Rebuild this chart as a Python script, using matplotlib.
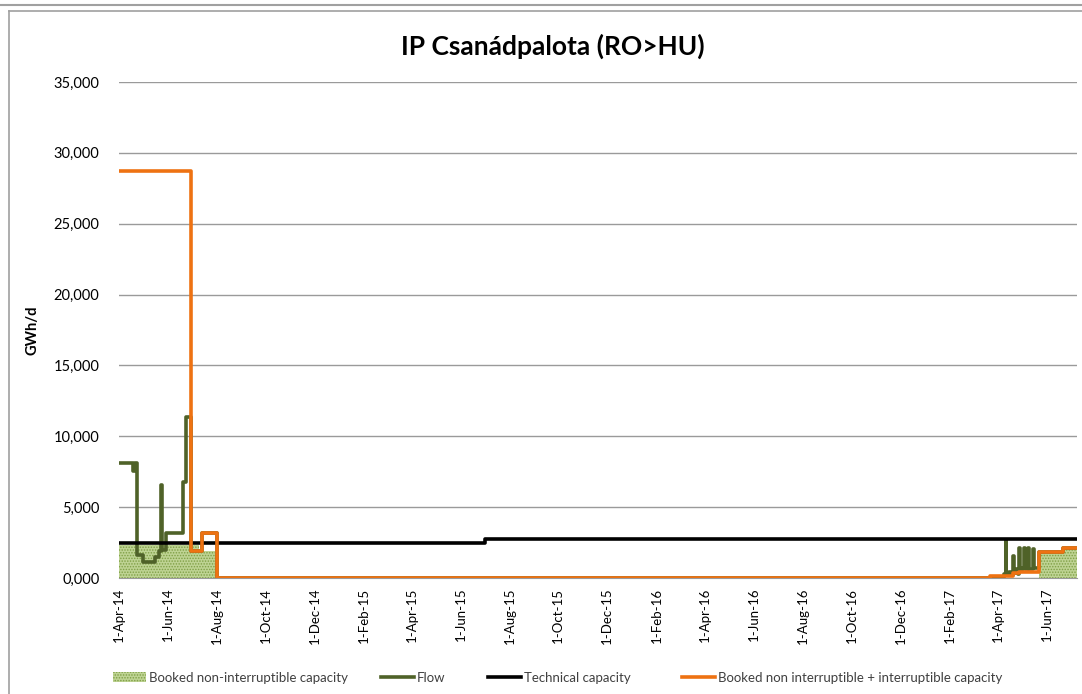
import matplotlib.pyplot as plt
import matplotlib.dates as mdates
import numpy as np
from matplotlib.lines import Line2D
from matplotlib.patches import Patch

plt.rcParams['font.family'] = ['Lato', 'DejaVu Sans']
plt.rcParams['hatch.linewidth'] = 0.7

end_date = "2017-07-09"

# Booked non-interruptible capacity (value holds until next date)
booked_dates = ["2014-04-01", "2014-07-10", "2014-08-01", "2017-05-23", "2017-06-21"]
booked_vals = [2330, 1880, 0, 1780, 2060]

# Technical capacity
tech_dates = ["2014-04-01", "2015-07-01"]
tech_vals = [2470, 2750]

# Booked non interruptible + interruptible capacity
total_dates = ["2014-04-01", "2014-06-30", "2014-07-13", "2014-08-01",
               "2017-03-23", "2017-04-20", "2017-04-28", "2017-05-22", "2017-06-21"]
total_vals = [28700, 1870, 3150, 0, 130, 330, 450, 1850, 2100]

# Flow
flow_dates = ["2014-04-01", "2014-04-19", "2014-04-21", "2014-04-23", "2014-05-01",
              "2014-05-16", "2014-05-21", "2014-05-24", "2014-05-25", "2014-05-30",
              "2014-06-20", "2014-06-24", "2014-06-30", "2014-07-13", "2014-08-01",
              "2017-04-09", "2017-04-11", "2017-04-12", "2017-04-15", "2017-04-19",
              "2017-04-20", "2017-04-21", "2017-04-24", "2017-04-27", "2017-04-28",
              "2017-04-29", "2017-05-02", "2017-05-04", "2017-05-05", "2017-05-09",
              "2017-05-10", "2017-05-15", "2017-05-16", "2017-05-22", "2017-06-21"]
flow_vals = [8100, 7550, 8100, 1650, 1150,
             1500, 1900, 6550, 1950, 3200,
             6800, 11350, 1870, 3150, 0,
             250, 2600, 300, 450, 200,
             1550, 350, 600, 300, 2150,
             500, 700, 2150, 600, 2150,
             650, 2050, 700, 1850, 2100]


def steps(dates, vals):
    d = np.array(dates + [end_date], dtype="datetime64[D]")
    v = np.array(vals + [vals[-1]], dtype=float)
    return d, v


fig = plt.figure(figsize=(10.82, 6.94), dpi=100)
W, H = 1082, 694
ax = fig.add_axes([119 / W, 1 - 578 / H, (1077 - 119) / W, (578 - 82) / H])

area_face, area_hatch = "#bed393", "#7f9f45"

d, v = steps(booked_dates, booked_vals)
ax.fill_between(d, v, step="post", facecolor=area_face, edgecolor=area_hatch,
                hatch="......", linewidth=0, zorder=2)

d, v = steps(flow_dates, flow_vals)
ax.step(d, v, where="post", color="#4f6228", lw=2.6, zorder=3)

d, v = steps(tech_dates, tech_vals)
ax.step(d, v, where="post", color="black", lw=2.6, zorder=4)

d, v = steps(total_dates, total_vals)
ax.step(d, v, where="post", color="#ee7212", lw=2.6, zorder=5)

ax.set_xlim(np.datetime64("2014-04-01"), np.datetime64(end_date))
ax.set_ylim(0, 35000)
ax.set_yticks(np.arange(0, 35001, 5000))
ax.yaxis.set_major_formatter(plt.FuncFormatter(lambda y, p: f"{int(y // 1000)},000"))
ax.xaxis.set_major_locator(mdates.MonthLocator(bymonth=(2, 4, 6, 8, 10, 12), bymonthday=1))
ax.xaxis.set_major_formatter(mdates.DateFormatter("%-d-%b-%y"))
plt.setp(ax.get_xticklabels(), rotation=90, fontsize=9.5)
plt.setp(ax.get_yticklabels(), fontsize=10.5)
ax.tick_params(axis="y", length=0, pad=14)
ax.tick_params(axis="x", length=0, pad=7)
ax.grid(axis="y", color="#9a9a9a", lw=1, zorder=0)
for s in ["top", "right", "left"]:
    ax.spines[s].set_visible(False)
ax.spines["bottom"].set_color("#9a9a9a")
ax.set_axisbelow(True)

ax.set_ylabel("GWh/d", fontsize=10.5, fontweight="bold", labelpad=10)
fig.text(553 / W, 1 - 46 / H, "IP Csanádpalota (RO>HU)", ha="center", va="center",
         fontsize=19, fontweight="bold")

# legend entries placed one by one, as in the original
handles = [
    Patch(facecolor=area_face, edgecolor=area_hatch, hatch="......", lw=0),
    Line2D([], [], color="#4f6228", lw=2.6),
    Line2D([], [], color="black", lw=2.6),
    Line2D([], [], color="#ee7212", lw=2.6),
]
labels = ["Booked non-interruptible capacity", "Flow", "Technical capacity",
          "Booked non interruptible + interruptible capacity"]
leg_x = [113, 381, 488, 682]
for hnd, lab, lx in zip(handles, labels, leg_x):
    leg = fig.legend([hnd], [lab], loc="center left", bbox_to_anchor=(lx / W, 1 - 678 / H),
                     frameon=False, fontsize=9.5, handlelength=2.5, handleheight=0.8,
                     handletextpad=0.2, borderpad=0, borderaxespad=0)
    for t in leg.get_texts():
        t.set_color("#404040")

# chart borders
fig.add_artist(Line2D([0, 1], [1 - 4.5 / H, 1 - 4.5 / H], transform=fig.transFigure,
                      color="#a0a0a0", lw=1.5))
fig.add_artist(Line2D([9 / W, 1], [1 - 10.5 / H, 1 - 10.5 / H], transform=fig.transFigure,
                      color="#a0a0a0", lw=1.2))
fig.add_artist(Line2D([8.5 / W, 8.5 / W], [0, 1 - 10.5 / H], transform=fig.transFigure,
                      color="#a0a0a0", lw=1.2))

fig.savefig("out.png", dpi=100)
